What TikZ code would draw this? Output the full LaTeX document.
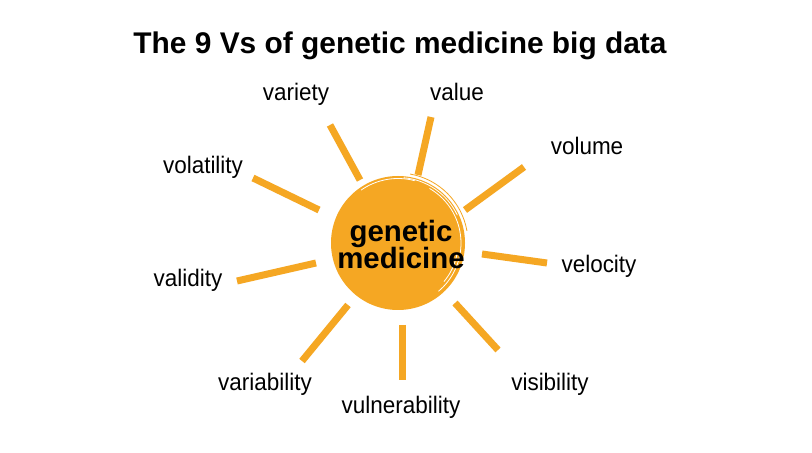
\documentclass[tikz,border=0pt]{standalone}
\usepackage{fontspec}
\setmainfont{Liberation Sans}
\newfontfamily\condfont[FakeStretch=0.94]{Liberation Sans}
\usetikzlibrary{calc}
\definecolor{sunorange}{RGB}{245,167,35}

\begin{document}
\begin{tikzpicture}[x=1bp,y=-1bp,
  ray/.style={draw=sunorange,line width=7bp},
  brush/.style={draw=white,line width=0.8bp},
  vlabel/.style={anchor=base,inner sep=0pt,font=\condfont\fontsize{24}{28}\selectfont}]
\useasboundingbox[fill=white] (0,0) rectangle (812,453);
\node[anchor=base,inner sep=0pt,font=\bfseries\fontsize{30}{36}\selectfont] (title) at (400,54) {The 9 Vs of genetic medicine big data};
\node[circle,fill=sunorange,minimum size=134bp,inner sep=0pt] (sun) at (398,243) {};
\draw[draw=sunorange,line width=0.8bp] (sun) ++(-80:70) arc[start angle=-80,end angle=-10,radius=70];
\draw[brush] (sun) ++(-60:63) arc[start angle=-60,end angle=50,radius=63];
\draw[brush] (sun) ++(-85:65.5) arc[start angle=-85,end angle=-25,radius=65.5];
\draw[brush] (sun) ++(-125:64.5) arc[start angle=-125,end angle=-75,radius=64.5];
\draw[brush] (sun) ++(10:60) arc[start angle=10,end angle=40,radius=60];
\node[align=center,inner sep=0pt,font=\bfseries\fontsize{29.5}{28}\selectfont] (core) at (401,244.5) {genetic\\medicine};
\draw[ray] (360,180) -- (330,125);
\draw[ray] (418,175) -- (431,117);
\draw[ray] (465,210) -- (524,167);
\draw[ray] (319,210) -- (253,178);
\draw[ray] (316,263) -- (237,281);
\draw[ray] (482,254) -- (547,263);
\draw[ray] (348,305) -- (302,361);
\draw[ray] (402,325) -- (402,380);
\draw[ray] (455,303) -- (498,350);
\node[vlabel] (variety) at (296,101) {variety};
\node[vlabel] (value) at (457,101) {value};
\node[vlabel] (volume) at (587,155) {volume};
\node[vlabel] (volatility) at (203,174) {volatility};
\node[vlabel] (velocity) at (599,273) {velocity};
\node[vlabel] (validity) at (188,287) {validity};
\node[vlabel] (variability) at (265,390) {variability};
\node[vlabel] (vulnerability) at (401,413) {vulnerability};
\node[vlabel] (visibility) at (550,390) {visibility};
\end{tikzpicture}
\end{document}
